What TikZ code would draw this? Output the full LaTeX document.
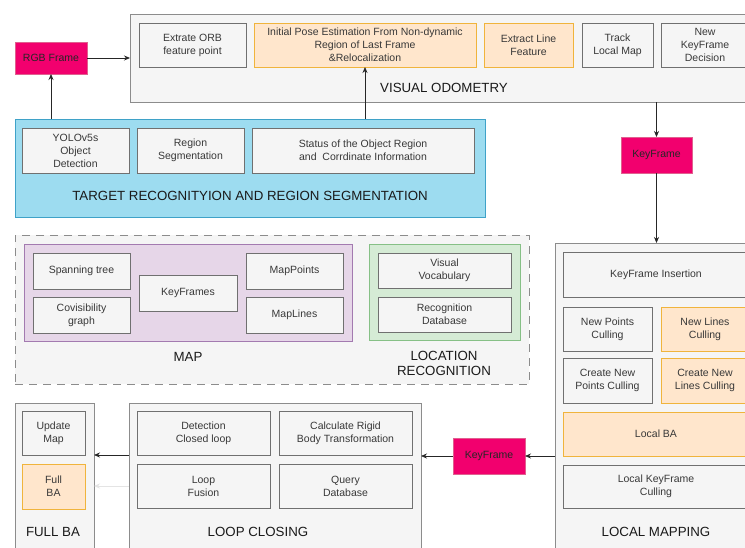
\documentclass[tikz,border=0pt]{standalone}
\usepackage{fontspec}
\setmainfont{Liberation Sans}
\usetikzlibrary{arrows.meta}
\definecolor{gfill}{HTML}{F5F5F5}
\definecolor{gline}{HTML}{707070}
\definecolor{cline}{HTML}{8C8C8C}
\definecolor{ofill}{HTML}{FFE6CC}
\definecolor{oline}{HTML}{F0B43C}
\definecolor{bfill}{HTML}{9DDCF0}
\definecolor{bline}{HTML}{3FA2C8}
\definecolor{pfill}{HTML}{E6D6E8}
\definecolor{pline}{HTML}{A37AB0}
\definecolor{grfill}{HTML}{D5EBD5}
\definecolor{grline}{HTML}{86C086}
\definecolor{mfill}{HTML}{F2006E}
\definecolor{mline}{HTML}{E0608F}
\definecolor{itext}{HTML}{383838}
\definecolor{ttext}{HTML}{1A1A1A}
\definecolor{faint}{HTML}{E4E4E4}
\tikzset{
  bx/.style={rectangle, anchor=north west, inner sep=0pt, outer sep=0pt, line width=0.9pt, align=center,
     font=\fontsize{10.5}{13}\selectfont, text=itext},
  gbox/.style={bx, fill=gfill, draw=gline},
  obox/.style={bx, fill=ofill, draw=oline},
  cont/.style={bx, fill=gfill, draw=cline},
  mbox/.style={bx, fill=mfill, draw=mline, text=black!85},
  ttl/.style={font=\fontsize{13.3}{15}\selectfont, text=ttext, align=center, inner sep=0pt},
  arr/.style={-{Stealth[length=6pt,width=5pt]}, line width=0.8pt, draw=black!85},
}
\newcommand{\bx}[7]{\node[#6, minimum width=#4pt, minimum height=#5pt] (#1) at (#2,#3) {#7};}
\begin{document}
\begin{tikzpicture}[x=1pt,y=-1pt]
\useasboundingbox (0,0) rectangle (745,547);
\clip (0,0) rectangle (745,547);
\fill[white] (0,0) rectangle (745,547);
% Visual odometry
\bx{vo}{130}{14}{640}{88}{cont}{}
\node[ttl] (vot) at (444,88) {VISUAL ODOMETRY};
\bx{orb}{139}{23}{107}{44}{gbox}{Extrate ORB\\feature point}
\bx{pose}{254}{23}{222}{44}{obox}{Initial Pose Estimation From Non-dynamic\\Region of Last Frame\\\&Relocalization}
\bx{line}{484}{23}{89}{44}{obox}{Extract Line\\Feature}
\bx{track}{582}{23}{71}{44}{gbox}{Track\\Local Map}
\bx{newkf}{661}{23}{88}{44}{gbox}{New\\KeyFrame\\Decision}
% RGB
\bx{rgb}{15}{42}{72}{32}{mbox}{RGB Frame}
% Target
\bx{tgt}{15}{119}{470}{98}{bx, fill=bfill, draw=bline}{}
\node[ttl] (tgtt) at (250,196) {TARGET RECOGNITYION AND REGION SEGMENTATION};
\bx{yolo}{22}{128}{107}{45}{gbox}{YOLOv5s\\Object\\Detection}
\bx{regseg}{137}{128}{107}{45}{gbox}{Region\\Segmentation}
\bx{status}{252}{128}{222}{45}{gbox}{Status of the Object Region\\and\ \ Corrdinate Information}
% KeyFrame 1
\bx{kfa}{621}{137}{71}{36}{mbox}{KeyFrame}
% Map area
\bx{mapa}{15}{235}{514}{149}{bx, fill=gfill, draw=cline, dash pattern=on 8pt off 6pt}{}
\bx{pmap}{24}{244}{328}{97}{bx, fill=pfill, draw=pline}{}
\bx{span}{33}{253}{97}{36}{gbox}{Spanning tree}
\bx{covis}{33}{297}{97}{36}{gbox}{Covisibility\\graph}
\bx{kfs}{139}{275}{98}{36}{gbox}{KeyFrames}
\bx{mpts}{246}{253}{97}{36}{gbox}{MapPoints}
\bx{mlines}{246}{297}{97}{36}{gbox}{MapLines}
\node[ttl] (mapt) at (188,357) {MAP};
\bx{gloc}{369}{244}{151}{96}{bx, fill=grfill, draw=grline}{}
\bx{vocab}{378}{253}{133}{35}{gbox}{Visual\\Vocabulary}
\bx{recdb}{378}{297}{133}{35}{gbox}{Recognition\\Database}
\node[ttl] (loct) at (444,363) {LOCATION\\RECOGNITION};
% Local mapping
\bx{lm}{555}{243}{220}{330}{cont}{}
\node[ttl] (lmt) at (656,532) {LOCAL MAPPING};
\bx{kfins}{563}{252}{186}{45}{gbox}{KeyFrame Insertion}
\bx{npc}{563}{307}{89}{44}{gbox}{New Points\\Culling}
\bx{nlc}{661}{307}{88}{44}{obox}{New Lines\\Culling}
\bx{cnpc}{563}{358}{89}{45}{gbox}{Create New\\Points Culling}
\bx{cnlc}{661}{358}{88}{45}{obox}{Create New\\Lines Culling}
\bx{lba}{563}{412}{186}{44}{obox}{Local BA}
\bx{lkfc}{563}{465}{186}{43}{gbox}{Local KeyFrame\\Culling}
% KeyFrame 2
\bx{kfb}{453}{438}{72}{36}{mbox}{KeyFrame}
% Loop closing
\bx{lc}{129}{403}{292}{170}{cont}{}
\node[ttl] (lct) at (258,532) {LOOP CLOSING};
\bx{det}{137}{411}{133}{44}{gbox}{Detection\\Closed loop}
\bx{calc}{279}{411}{133}{44}{gbox}{Calculate Rigid\\Body Transformation}
\bx{fus}{137}{464}{133}{44}{gbox}{Loop\\Fusion}
\bx{qdb}{279}{464}{133}{44}{gbox}{Query\\Database}
% Full BA
\bx{fb}{15}{403}{79}{170}{cont}{}
\node[ttl] (fbt) at (53,532) {FULL BA};
\bx{upd}{22}{411}{63}{44}{gbox}{Update\\Map}
\bx{fba}{22}{464}{63}{45}{obox}{Full\\BA}
% connectors
\draw[arr] (rgb.east) -- (rgb.east -| vo.west);
\draw[arr] (tgt.north -| rgb.south) -- (rgb.south);
\draw[arr] (tgt.north -| pose.south) -- (pose.south);
\draw[arr] (vo.south -| kfa.north) -- (kfa.north);
\draw[arr] (kfa.south) -- (kfa.south |- lm.north);
\draw[arr] (lm.west |- kfb.east) -- (kfb.east);
\draw[arr] (kfb.west) -- (kfb.west -| lc.east);
\coordinate (lca) at (129,455);
\coordinate (lcb) at (129,486);
\draw[arr] (lca) -- (lca -| fb.east);
\draw[arr, draw=faint] (lcb) -- (lcb -| fb.east);
\end{tikzpicture}
\end{document}
